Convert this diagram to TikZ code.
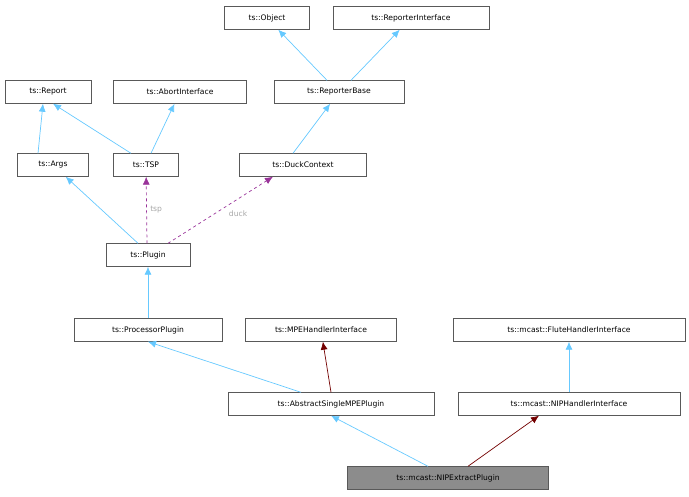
\documentclass[tikz,border=0pt]{standalone}
\usepackage{fontspec}
\setmainfont{DejaVu Sans}
\usetikzlibrary{arrows.meta}
\begin{document}
\begin{tikzpicture}[x=1pt,y=-1pt,
  box/.style={draw=black!65,fill=white,inner sep=0pt,minimum height=23pt,font=\fontsize{7.6}{9}\selectfont},
  inh/.style={draw=blue!35!cyan!60,-{Latex[length=8pt,width=7pt]},line width=0.7pt},
  red/.style={draw=red!45!black,-{Latex[length=8pt,width=7pt]},line width=0.7pt},
  use/.style={draw=violet!80,dashed,-{Latex[length=8pt,width=7pt]},line width=0.7pt},
  lbl/.style={font=\fontsize{7.6}{9}\selectfont,text=black!35}]
\useasboundingbox (0,0) rectangle (689,497);
\node[box,minimum width=85pt] (obj) at (267,18) {ts::Object};
\node[box,minimum width=156pt] (ri) at (411,18) {ts::ReporterInterface};
\node[box,minimum width=86pt] (rep) at (48,92) {ts::Report};
\node[box,minimum width=133pt] (ai) at (180,92) {ts::AbortInterface};
\node[box,minimum width=130pt] (rb) at (339,92) {ts::ReporterBase};
\node[box,minimum width=71pt] (args) at (53,165) {ts::Args};
\node[box,minimum width=65pt] (tsp) at (146,165) {ts::TSP};
\node[box,minimum width=127pt] (dc) at (303,165) {ts::DuckContext};
\node[box,minimum width=84pt] (pl) at (148,255) {ts::Plugin};
\node[box,minimum width=148pt] (pp) at (148,330) {ts::ProcessorPlugin};
\node[box,minimum width=151pt] (mpe) at (321,330) {ts::MPEHandlerInterface};
\node[box,minimum width=232pt] (fl) at (569,330) {ts::mcast::FluteHandlerInterface};
\node[box,minimum width=206pt] (as) at (331,404) {ts::AbstractSingleMPEPlugin};
\node[box,minimum width=222pt] (nip) at (569,404) {ts::mcast::NIPHandlerInterface};
\node[box,minimum width=201pt,fill=black!45] (ex) at (448,478) {ts::mcast::NIPExtractPlugin};
\draw[inh] ([xshift=-12pt]rb.north) -- (obj);
\draw[inh] ([xshift=12pt]rb.north) -- (ri);
\draw[inh] ([xshift=-15pt]args.north) -- ([xshift=-5pt]rep.south);
\draw[inh] ([xshift=-15pt]tsp.north) -- ([xshift=5pt]rep.south);
\draw[inh] ([xshift=5pt]tsp.north) -- (ai);
\draw[inh] ([xshift=-10pt]dc.north) -- (rb);
\draw[inh] ([xshift=-10pt]pl.north) -- (args);
\draw[use] ([xshift=-1pt]pl.north) -- node[lbl,right,pos=0.5]{tsp} (tsp);
\draw[use] ([xshift=20pt]pl.north) -- node[lbl,pos=0.45,right=10pt]{duck} ([xshift=-30pt]dc.south);
\draw[inh] (pp) -- (pl);
\draw[inh] ([xshift=-30pt]as.north) -- (pp.south);
\draw[red] (as.north) -- (mpe);
\draw[inh] (nip) -- (fl);
\draw[inh] ([xshift=-20pt]ex.north) -- (as.south);
\draw[red] ([xshift=20pt]ex.north) -- ([xshift=-30pt]nip.south);
\end{tikzpicture}
\end{document}
